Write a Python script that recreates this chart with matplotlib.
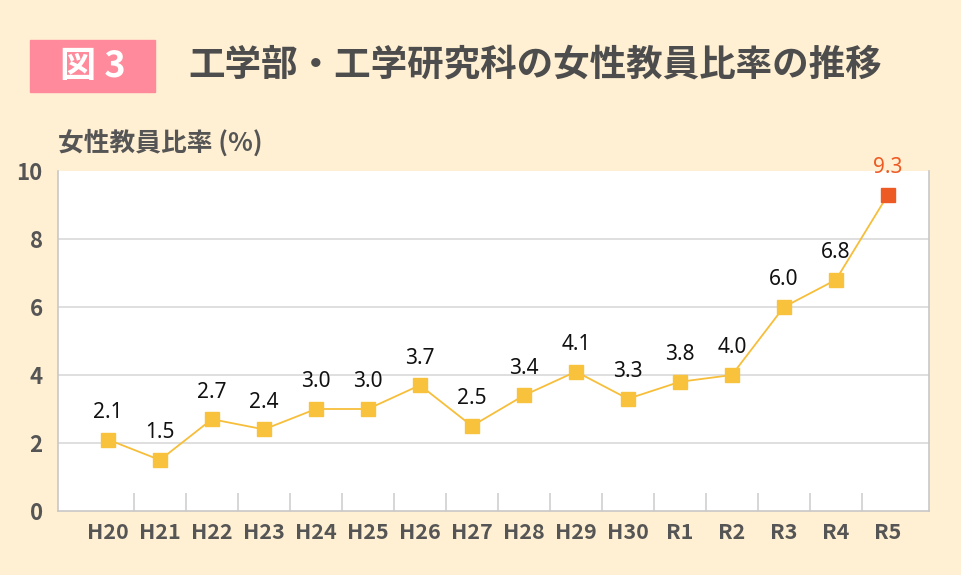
import matplotlib.pyplot as plt
from matplotlib.patches import Rectangle
import numpy as np

plt.rcParams['font.family'] = ['Noto Sans CJK JP', 'DejaVu Sans']

# data
years = ['H20', 'H21', 'H22', 'H23', 'H24', 'H25', 'H26', 'H27',
         'H28', 'H29', 'H30', 'R1', 'R2', 'R3', 'R4', 'R5']
rate = [2.1, 1.5, 2.7, 2.4, 3.0, 3.0, 3.7, 2.5,
        3.4, 4.1, 3.3, 3.8, 4.0, 6.0, 6.8, 9.3]
yticks = [0, 2, 4, 6, 8, 10]

bg = '#FFF0D3'
gray = '#555555'
yellow = '#F9C23C'
red = '#EE5A24'

fig = plt.figure(figsize=(9.61, 5.75), dpi=100, facecolor=bg)
ax = fig.add_axes([0.0604, 0.1113, 0.9063, 0.5913])
ax.set_facecolor('white')

x = np.arange(len(years))
ax.plot(x, rate, color='#F7BE3A', lw=1.3, zorder=3)
ax.plot(x[:-1], rate[:-1], ls='none', marker='s', ms=10, color=yellow, zorder=4)
ax.plot(x[-1:], rate[-1:], ls='none', marker='s', ms=10, color=red, zorder=4)

# data labels
for i, v in enumerate(rate):
    c = red if i == len(rate) - 1 else '#111111'
    ax.annotate(f'{v:.1f}', (i, v), xytext=(0, 12), textcoords='offset points',
                ha='center', va='bottom', fontsize=15, color=c, zorder=5,
                family=['Noto Sans', 'DejaVu Sans'])

ax.set_xlim(-0.96, 15.79)
ax.set_ylim(0, 10)
ax.set_yticks(yticks)
ax.set_yticklabels([str(t) for t in yticks], fontsize=16, fontweight='bold', color=gray)
ax.set_xticks(x)
ax.set_xticklabels(years, fontsize=15.5, fontweight='bold', color=gray)
ax.tick_params(axis='both', length=0)
ax.tick_params(axis='y', pad=11)
ax.tick_params(axis='x', pad=8)

# gridlines (not at top)
for t in yticks[1:-1]:
    ax.axhline(t, color='#D9D9D9', lw=1.2, zorder=1)

# short separator ticks between categories
ax.vlines(x[:-1] + 0.5, 0, 0.53, color='#D0D0D0', lw=1.2, zorder=1)

for s in ['left', 'right', 'bottom']:
    ax.spines[s].set_color('#C8C8C8')
    ax.spines[s].set_linewidth(1.2)
ax.spines['top'].set_visible(False)

# header
fig.patches.append(Rectangle((30 / 961, 1 - 92 / 575), 125 / 961, 52 / 575,
                             transform=fig.transFigure, color='#FF8A9B', zorder=0))
fig.text(93 / 961, 1 - 66 / 575, '図 3', ha='center', va='center',
         fontsize=26, fontweight='bold', color='white')
fig.text(188 / 961, 1 - 65 / 575, '工学部・工学研究科の女性教員比率の推移',
         ha='left', va='center', fontsize=26.3, fontweight='bold', color='#4D4D4D')
fig.text(58 / 961, 1 - 143 / 575, '女性教員比率 (%)', ha='left', va='center',
         fontsize=18.5, fontweight='bold', color=gray)

fig.savefig('out.png', dpi=100, facecolor=bg)
